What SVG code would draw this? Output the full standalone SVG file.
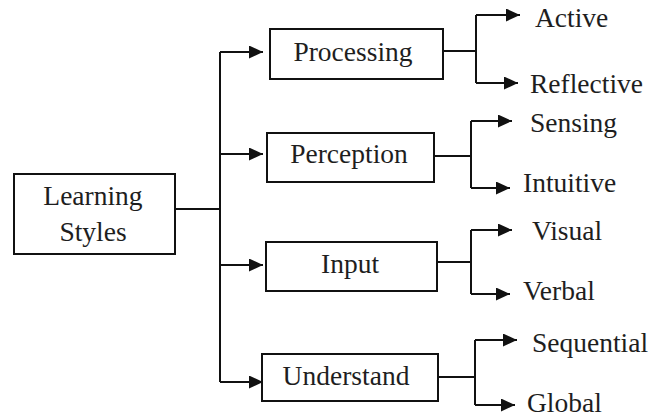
<svg xmlns="http://www.w3.org/2000/svg" width="657" height="419" viewBox="0 0 657 419">
<style>
.box{fill:#fff;stroke:#111;stroke-width:2}
.c{fill:none;stroke:#111;stroke-width:2}
.a{fill:none;stroke:#111;stroke-width:2;marker-end:url(#ah)}
text{font-family:"Liberation Serif","Times New Roman",serif;font-size:27.5px;fill:#1e1e1e}
.m{text-anchor:middle}
</style>
<defs>
<marker id="ah" markerUnits="userSpaceOnUse" markerWidth="15" markerHeight="13" refX="14" refY="6.5" orient="auto">
<path d="M0,0 L14,6.5 L0,13 Z" fill="#111"/>
</marker>
</defs>
<rect width="657" height="419" fill="#fff"/>
<g id="connectors">
<path class="c" d="M175,209 H220 M220,52 V382"/>
<path class="a" d="M220,52 H263"/>
<path class="a" d="M220,154 H263"/>
<path class="a" d="M220,265 H263"/>
<path class="a" d="M220,382 H263"/>
<path class="c" d="M443,51 H476 M476,15 V83"/>
<path class="a" d="M476,15 H520"/>
<path class="a" d="M476,83 H518"/>
<path class="c" d="M434,156 H471 M471,121 V188"/>
<path class="a" d="M471,121 H512"/>
<path class="a" d="M471,188 H510"/>
<path class="c" d="M437,262 H471 M471,230 V294"/>
<path class="a" d="M471,230 H512"/>
<path class="a" d="M471,294 H510"/>
<path class="c" d="M438,377 H475 M475,340 V405"/>
<path class="a" d="M475,340 H517"/>
<path class="a" d="M475,405 H515"/>
</g>
<g id="learning-styles">
<rect class="box" x="14" y="174" width="161" height="80"/>
<text class="m" x="93" y="205">Learning</text>
<text class="m" x="93" y="241">Styles</text>
</g>
<g id="processing">
<rect class="box" x="270" y="29" width="173" height="50"/>
<text class="m" x="353" y="61">Processing</text>
</g>
<g id="perception">
<rect class="box" x="267" y="133" width="167" height="49"/>
<text class="m" x="349" y="163">Perception</text>
</g>
<g id="input">
<rect class="box" x="266" y="242" width="171" height="49"/>
<text class="m" x="350" y="273">Input</text>
</g>
<g id="understand">
<rect class="box" x="262" y="354" width="176" height="47"/>
<text class="m" x="346" y="385">Understand</text>
</g>
<g id="active"><text x="535" y="27">Active</text></g>
<g id="reflective"><text x="530" y="93">Reflective</text></g>
<g id="sensing"><text x="530" y="132">Sensing</text></g>
<g id="intuitive"><text x="523" y="192">Intuitive</text></g>
<g id="visual"><text x="532" y="240">Visual</text></g>
<g id="verbal"><text x="523" y="300">Verbal</text></g>
<g id="sequential"><text x="532" y="352">Sequential</text></g>
<g id="global"><text x="527" y="412">Global</text></g>
</svg>
